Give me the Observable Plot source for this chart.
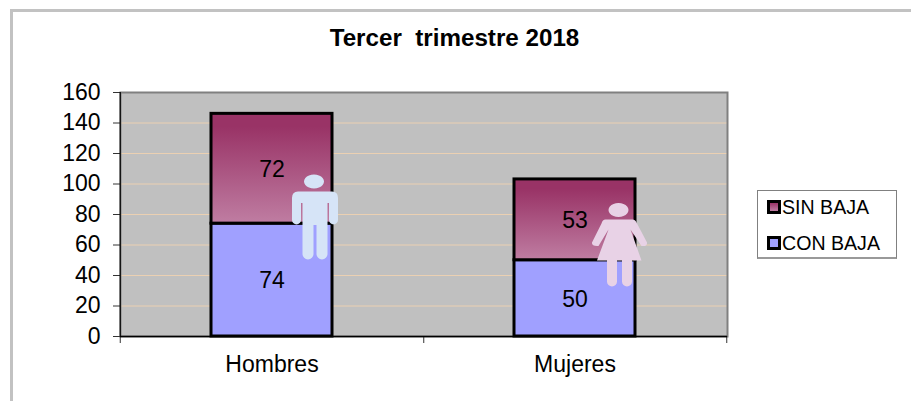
<!DOCTYPE html>
<html>
<head>
<meta charset="utf-8">
<script src="https://cdn.jsdelivr.net/npm/d3@7"></script>
<script src="https://cdn.jsdelivr.net/npm/@observablehq/plot@0.6"></script>
<style>
  html, body { margin: 0; padding: 0; background: #fff; }
  body { font-family: "Liberation Sans", Arial, sans-serif; color: #000; }
  #chart { position: relative; width: 911px; height: 401px; overflow: hidden; }
  #frame { position: absolute; left: 9.5px; top: 9px; width: 901.5px; height: 392px;
           border-left: 3px solid #c2c2c2; border-top: 3px solid #c2c2c2; box-sizing: border-box; }
  #title { position: absolute; left: 0; top: 24px; width: 909px; text-align: center;
           font-size: 24.2px; line-height: 27px; font-weight: bold; white-space: pre; }
  #legend { position: absolute; left: 757px; top: 190px; width: 140px; height: 69px; box-sizing: border-box;
            border: 1px solid #808080; border-bottom: 2px solid #999; }
  .item { position: absolute; left: 9px; height: 24px; display: flex; align-items: center;
          font-size: 19.6px; white-space: pre; }
  .sw { width: 7.5px; height: 7.5px; border: 3px solid #000; margin-right: 1.5px; flex: none; }
  svg { position: absolute; left: 0; top: 0; }
</style>
</head>
<body>
<div id="chart">
  <div id="frame"></div>
  <div id="title"></div>
  <div id="legend"></div>
</div>
<script>
const titleText = "Tercer  trimestre 2018";
const categories = ["Hombres", "Mujeres"];
const conBaja = [74, 50];
const sinBaja = [72, 53];
const yTicks = [0, 20, 40, 60, 80, 100, 120, 140, 160];
const seriesNames = ["SIN BAJA", "CON BAJA"];
const iconLevels = [78.4, 60.3];

const conColor = "#a0a0ff";
const sinTop = "#993366";
const sinBottom = "#bf7da2";
const manColor = "#d6e4f7";
const womanColor = "#e8d2e6";
const gridColor = "#ebd0b2";

const rows = categories.map((c, i) => ({ c, con: conBaja[i], sin: sinBaja[i], total: conBaja[i] + sinBaja[i] }));

// Pictogram outlines, in pixels around the anchor (r = 42 keeps them at 1:1)
const unit = size => Math.sqrt(size / Math.PI) / 42;
function capsule(ctx, k, x0, x1, y0, y1) {
  const r = (x1 - x0) / 2 * k;
  ctx.moveTo(x0 * k, y0 * k);
  ctx.lineTo(x1 * k, y0 * k);
  ctx.lineTo(x1 * k, y1 * k - r);
  ctx.arc((x0 + x1) / 2 * k, y1 * k - r, r, 0, Math.PI);
  ctx.closePath();
}
function head(ctx, k, cx, cy) {
  for (let a = 0; a < 24; ++a) {
    const t = a / 24 * 2 * Math.PI;
    const x = (cx + 10 * Math.cos(t)) * k, y = (cy + 7 * Math.sin(t)) * k;
    a ? ctx.lineTo(x, y) : ctx.moveTo(x, y);
  }
  ctx.closePath();
}
const manSymbol = {
  draw(ctx, size) {
    const k = unit(size);
    head(ctx, k, -1, -35.5);
    ctx.moveTo(-17 * k, -25.5 * k);
    ctx.lineTo(17 * k, -25.5 * k);
    ctx.quadraticCurveTo(23 * k, -25.5 * k, 23 * k, -19 * k);
    ctx.lineTo(23 * k, 3 * k);
    ctx.arc(18.5 * k, 3 * k, 4.5 * k, 0, Math.PI);
    ctx.lineTo(14 * k, -14 * k);
    ctx.lineTo(12.5 * k, -14 * k);
    ctx.lineTo(12.5 * k, 8 * k);
    ctx.lineTo(-12.5 * k, 8 * k);
    ctx.lineTo(-12.5 * k, -14 * k);
    ctx.lineTo(-14 * k, -14 * k);
    ctx.lineTo(-14 * k, 3 * k);
    ctx.arc(-18.5 * k, 3 * k, 4.5 * k, 0, Math.PI);
    ctx.lineTo(-23 * k, -19 * k);
    ctx.quadraticCurveTo(-23 * k, -25.5 * k, -17 * k, -25.5 * k);
    ctx.closePath();
    capsule(ctx, k, -12.5, -1.5, 6, 42.5);
    capsule(ctx, k, 1.5, 12.5, 6, 42.5);
  }
};
const womanSymbol = {
  draw(ctx, size) {
    const k = unit(size);
    head(ctx, k, -1, -34.5);
    ctx.moveTo(-14 * k, -25 * k);
    ctx.lineTo(13 * k, -25 * k);
    ctx.quadraticCurveTo(16 * k, -25 * k, 17.5 * k, -21 * k);
    ctx.lineTo(27.5 * k, -2 * k);
    ctx.quadraticCurveTo(28 * k, 2 * k, 22 * k, 1.5 * k);
    ctx.lineTo(11 * k, -15 * k);
    ctx.lineTo(22 * k, 16 * k);
    ctx.lineTo(-22.5 * k, 16 * k);
    ctx.lineTo(-11 * k, -15 * k);
    ctx.lineTo(-21 * k, 1.5 * k);
    ctx.quadraticCurveTo(-28 * k, 2 * k, -27.5 * k, -2 * k);
    ctx.lineTo(-18 * k, -21 * k);
    ctx.quadraticCurveTo(-17 * k, -25 * k, -14 * k, -25 * k);
    ctx.closePath();
    capsule(ctx, k, -12.5, -2.5, 14, 42);
    capsule(ctx, k, 2.5, 12.5, 14, 42);
  }
};

function gradientDefs() {
  const ns = "http://www.w3.org/2000/svg";
  const defs = document.createElementNS(ns, "defs");
  const g = document.createElementNS(ns, "linearGradient");
  g.setAttribute("id", "sinGrad");
  g.setAttribute("x1", 0); g.setAttribute("y1", 0); g.setAttribute("x2", 0); g.setAttribute("y2", 1);
  [[0, sinTop], [0.12, sinTop], [1, sinBottom]].forEach(([o, col]) => {
    const s = document.createElementNS(ns, "stop");
    s.setAttribute("offset", o);
    s.setAttribute("stop-color", col);
    g.appendChild(s);
  });
  defs.appendChild(g);
  return defs;
}

const plot = Plot.plot({
  width: 911,
  height: 401,
  marginLeft: 120,
  marginRight: 184,
  marginTop: 92,
  marginBottom: 65,
  style: { background: "transparent", fontFamily: "'Liberation Sans', Arial, sans-serif", color: "#000", overflow: "visible" },
  x: { domain: categories, paddingInner: 0.6, paddingOuter: 0.3, label: null },
  y: { domain: [0, 160], label: null },
  marks: [
    gradientDefs,
    Plot.frame({ fill: "#c0c0c0" }),
    Plot.ruleY(yTicks.slice(1, -1), { stroke: gridColor, strokeWidth: 1 }),
    Plot.frame({ stroke: "#808080", strokeWidth: 2 }),
    Plot.axisY({ ticks: yTicks, tickSize: 7, tickPadding: 13, fontSize: 23, stroke: "#333" }),
    Plot.axisX({ tickSize: 0, tickPadding: 19, fontSize: 23 }),
    Plot.ruleX([0], { x: () => categories[0], y1: 0, y2: 0, dx: -151.75, insetBottom: -7, stroke: "#333" }),
    Plot.ruleX(categories, { y1: 0, y2: 0, dx: 151.75, insetBottom: -7, stroke: "#333" }),
    Plot.ruleX([0], { x: () => categories[0], y1: 0, y2: 160, dx: -151.75, stroke: "#000", strokeWidth: 1.2 }),
    Plot.ruleY([0], { stroke: "#000", strokeWidth: 1.5 }),
    Plot.barY(rows, { x: "c", y1: 0, y2: "con", fill: conColor, stroke: "#000", strokeWidth: 3 }),
    Plot.barY(rows, { x: "c", y1: "con", y2: "total", fill: "url(#sinGrad)", stroke: "#000", strokeWidth: 3 }),
    Plot.text(rows, { x: "c", y: d => d.con / 2, text: d => String(d.con), fontSize: 23, fill: "#000", dy: 1 }),
    Plot.text(rows, { x: "c", y: d => d.con + d.sin / 2, text: d => String(d.sin), fontSize: 23, fill: "#000", dy: 1 }),
    Plot.dot([rows[0]], { x: "c", y: () => iconLevels[0], r: 42, symbol: manSymbol, fill: manColor, stroke: "none", dx: 43 }),
    Plot.dot([rows[1]], { x: "c", y: () => iconLevels[1], r: 42, symbol: womanSymbol, fill: womanColor, stroke: "none", dx: 44.5 })
  ]
});
document.getElementById("chart").insertBefore(plot, document.getElementById("title"));
document.getElementById("title").textContent = titleText;

const legend = document.getElementById("legend");
seriesNames.forEach((name, i) => {
  const item = document.createElement("div");
  item.className = "item";
  item.style.top = (i === 0 ? 4 : 40) + "px";
  const sw = document.createElement("span");
  sw.className = "sw";
  sw.style.background = i === 0 ? `linear-gradient(${sinTop}, ${sinBottom})` : conColor;
  item.appendChild(sw);
  item.appendChild(document.createTextNode(name));
  legend.appendChild(item);
});
</script>
</body>
</html>
